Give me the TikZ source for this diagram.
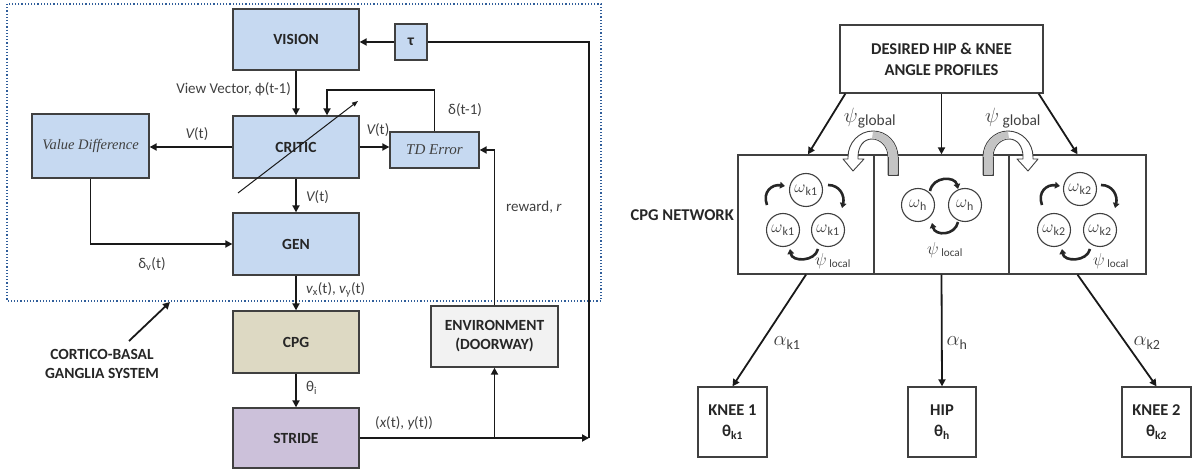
\documentclass[tikz,border=0pt]{standalone}
\usepackage{fontspec}
\setmainfont{Carlito}
\newfontfamily\tnr{Liberation Serif}
\usetikzlibrary{arrows.meta}
\definecolor{boxblue}{HTML}{C6D9F1}
\definecolor{cpgtan}{HTML}{DDD9C3}
\definecolor{strideviolet}{HTML}{CCC1DA}
\definecolor{envgray}{HTML}{F2F2F2}
\definecolor{edge}{HTML}{404040}
\definecolor{txt}{HTML}{262626}
\definecolor{lbl}{HTML}{404040}
\definecolor{dotblue}{HTML}{2F5D9A}
\definecolor{ribbongray}{HTML}{C4C4C4}
\newcommand{\fsz}[2]{\fontsize{#1}{#2}\selectfont}
\tikzset{
  box/.style={draw=edge, line width=1.3pt, inner sep=0pt, align=center, text=txt, font=\bfseries\fsz{15.5}{19}},
  wbox/.style={draw=edge, line width=1.3pt, inner sep=0pt, align=center, text=txt, font=\bfseries\fsz{16.5}{21}, fill=white},
  arr/.style={-{Triangle[length=7pt,width=7pt]}, line width=1.8pt, black!90},
  plain/.style={line width=1.8pt, black!90},
  lab/.style={text=lbl, font=\fsz{15}{18}, inner sep=1pt},
  osc/.style={circle, draw=edge, line width=1.1pt, minimum size=33pt, inner sep=0pt, text=lbl, font=\fsz{17}{18}},
  loop/.style={-{Triangle[length=5pt,width=6.5pt]}, line width=2.6pt, black!85},
  ribbon/.style={draw=edge, line width=0.9pt, line join=round},
}
\begin{document}
\begin{tikzpicture}[x=1pt,y=-1pt]
\useasboundingbox (0,0) rectangle (1194,470);
% ---------------- left diagram ----------------
\draw[dotblue, line width=1.2pt, dotted] (7,4) rectangle (601,301);
\node[box, fill=boxblue, minimum width=126pt, minimum height=61pt] (vision) at (296,39.5) {VISION};
\node[box, fill=boxblue, minimum width=32pt, minimum height=36pt] (tau) at (411,42) {τ};
\node[box, fill=boxblue, minimum width=126pt, minimum height=62pt] (critic) at (296,147) {CRITIC};
\node[box, fill=boxblue, minimum width=117pt, minimum height=64pt, text=lbl, font=\tnr\itshape\fsz{14.5}{17}] (vd) at (90.5,146) {Value Difference};
\node[box, fill=boxblue, minimum width=89pt, minimum height=36pt, text=lbl, font=\tnr\itshape\fsz{15}{17}] (td) at (434.5,150) {TD Error};
\node[box, fill=boxblue, minimum width=126pt, minimum height=62pt] (gen) at (296,244) {GEN};
\node[box, fill=cpgtan, minimum width=126pt, minimum height=62pt] (cpg) at (296,342) {CPG};
\node[box, fill=strideviolet, minimum width=126pt, minimum height=60pt] (stride) at (296,438) {STRIDE};
\node[box, fill=envgray, minimum width=127pt, minimum height=61pt] (env) at (494.5,336.5) {ENVIRONMENT\\(DOORWAY)};
\node[box, draw=none] (cb) at (102,364) {CORTICO-BASAL\\GANGLIA SYSTEM};

\coordinate (fb) at (327,90);
\coordinate (corner) at (589,438);
\coordinate (cbs) at (129,341);
\coordinate (cbt) at (170,302);
\coordinate (dg1) at (238,193);
\coordinate (dg2) at (358,101);

\draw[arr] (tau.west) -- (tau.west -| vision.east);
\draw[arr] (vision) -- (critic);
\draw[arr] (td.north) |- (fb) -- (fb |- critic.north);
\draw[-{Triangle[length=6pt,width=4.5pt]}, line width=1pt, black!90] (dg1) -- (dg2);
\draw[arr] (critic.west) -- (critic.west -| vd.east);
\draw[arr] (critic.east) -- (critic.east -| td.west);
\draw[arr] (critic) -- (gen);
\draw[arr] (vd.south) |- (gen.west);
\draw[arr] (gen) -- (cpg);
\draw[arr] (cpg) -- (stride);
\draw[arr] (stride.east) -- (corner);
\draw[plain] (corner) |- (tau.east);
\draw[arr] (env.south |- stride.east) -- (env.south);
\draw[arr] (env.north) |- (td.east);
\draw[arr] (cbs) -- (cbt);

\node[lab, anchor=east] (lvv) at (292,89) {View Vector, ϕ(t-1)};
\node[lab] (lv1) at (197,134) {{\itshape V}(t)};
\node[lab] (lv2) at (378,130) {{\itshape V}(t)};
\node[lab, anchor=west] (lv3) at (305,197) {{\itshape V}(t)};
\node[lab, anchor=west] (ld) at (447,110) {δ(t-1)};
\node[lab] (ldv) at (152,264) {δ\textsubscript{v}(t)};
\node[lab, anchor=west] (lvxy) at (305,290) {{\itshape v}\textsubscript{x}(t), {\itshape v}\textsubscript{y}(t)};
\node[lab, anchor=west] (lth) at (305,388) {θ\textsubscript{i}};
\node[lab, anchor=west] (lxy) at (374,423) {({\itshape x}(t), {\itshape y}(t))};
\node[lab, anchor=west] (lrw) at (505,207) {reward, {\itshape r}};

% ---------------- right diagram ----------------
\node[wbox, minimum width=203pt, minimum height=68pt] (des) at (941.5,59) {DESIRED HIP \& KNEE\\ANGLE PROFILES};
\node[draw=edge, line width=1.3pt, minimum width=136pt, minimum height=119pt, inner sep=0pt] (c1) at (806,214.5) {};
\node[draw=edge, line width=1.3pt, minimum width=135pt, minimum height=119pt, inner sep=0pt] (c2) at (941.5,214.5) {};
\node[draw=edge, line width=1.3pt, minimum width=137pt, minimum height=119pt, inner sep=0pt] (c3) at (1077.5,214.5) {};
\node[text=txt, font=\bfseries\fsz{16.5}{20}, anchor=east, inner sep=1pt] (cpgnet) at (735,215) {CPG NETWORK};
\node[wbox, minimum width=69pt, minimum height=70pt] (knee1) at (732.5,422) {KNEE 1\\θ\textsubscript{k1}};
\node[wbox, minimum width=68pt, minimum height=70pt] (hip) at (942,422) {HIP\\θ\textsubscript{h}};
\node[wbox, minimum width=69pt, minimum height=70pt] (knee2) at (1156.5,422) {KNEE 2\\θ\textsubscript{k2}};

\draw[arr] ([xshift=6pt]des.south west) -- ([xshift=2pt]c1.north);
\draw[arr] (des.south) -- (c2.north);
\draw[arr] ([xshift=-5pt]des.south east) -- (c3.north);
\draw[arr] (c1.south) -- (knee1.north);
\draw[arr] (c2.south) -- (hip.north);
\draw[arr] (c3.south) -- (knee2.north);

\node[text=lbl, font=\fsz{20}{22}] (a1) at (787,343) {$\alpha$\textsubscript{k1}};
\node[text=lbl, font=\fsz{20}{22}] (a2) at (957,343) {$\alpha$\textsubscript{h}};
\node[text=lbl, font=\fsz{20}{22}] (a3) at (1147,343) {$\alpha$\textsubscript{k2}};

% oscillators
\node[osc] (o11) at (806,190) {$\omega$\textsubscript{k1}};
\node[osc] (o12) at (783,230) {$\omega$\textsubscript{k1}};
\node[osc] (o13) at (828,230) {$\omega$\textsubscript{k1}};
\node[osc] (oh1) at (918,205) {$\omega$\textsubscript{h}};
\node[osc] (oh2) at (965,205) {$\omega$\textsubscript{h}};
\node[osc] (o21) at (1080,189) {$\omega$\textsubscript{k2}};
\node[osc] (o22) at (1054,230) {$\omega$\textsubscript{k2}};
\node[osc] (o23) at (1100,230) {$\omega$\textsubscript{k2}};

\draw[loop] (767,205) .. controls (762,192) and (772,184) .. (785,186);
\draw[loop] (828,185) .. controls (840,185) and (845,196) .. (842,208);
\draw[loop] (818,249) .. controls (815,262) and (792,262) .. (790,249);
\draw[loop] (930,191) .. controls (933,176) and (955,176) .. (958,189);
\draw[loop] (958,222) .. controls (955,236) and (935,236) .. (932,223);
\draw[loop] (1042,205) .. controls (1037,192) and (1047,184) .. (1060,186);
\draw[loop] (1101,185) .. controls (1113,185) and (1118,196) .. (1115,208);
\draw[loop] (1090,249) .. controls (1087,262) and (1064,262) .. (1062,249);

\node[text=lbl, font=\fsz{16}{18}] (pl1) at (833,261) {$\psi$\,\textsubscript{local}};
\node[text=lbl, font=\fsz{16}{18}] (pl2) at (945,250) {$\psi$\,\textsubscript{local}};
\node[text=lbl, font=\fsz{16}{18}] (pl3) at (1111,261) {$\psi$\,\textsubscript{local}};

\node[text=lbl, font=\fsz{22}{24}] (pg1) at (870,118) {$\psi$\textsubscript{global}};
\node[text=lbl, font=\fsz{22}{24}] (pg2) at (1013,118) {$\psi$\,\textsubscript{global}};

% ribbon arrows
\filldraw[ribbon, fill=white] (858,159) -- (858,157) .. controls (858,146) and (864,139) .. (872,139) .. controls (880,139) and (888,146) .. (888,157) -- (888,175) -- (898,175) -- (898,157) .. controls (898,142.6) and (886.8,131) .. (873,131) .. controls (859.2,131) and (848,142.6) .. (848,157) -- (848,159) -- (843,159) -- (853,171) -- (864,159) -- cycle;
\fill[ribbongray] (873,131.6) .. controls (886.4,131.6) and (897.4,142.6) .. (897.4,157) -- (897.4,174.4) -- (888.6,174.4) -- (888.6,157) .. controls (888.6,146) and (880,138.4) .. (872,138.4) -- cycle;
\draw[ribbon] (888,157) -- (888,175) -- (898,175) -- (898,157);

\filldraw[ribbon, fill=white] (1023,159) -- (1023,157) .. controls (1023,146) and (1017,139) .. (1009,139) .. controls (1001,139) and (993,146) .. (993,157) -- (993,175) -- (983,175) -- (983,157) .. controls (983,142.6) and (994.2,131) .. (1008,131) .. controls (1021.8,131) and (1033,142.6) .. (1033,157) -- (1033,159) -- (1038,159) -- (1028,171) -- (1017,159) -- cycle;
\fill[ribbongray] (1008,131.6) .. controls (994.6,131.6) and (983.6,142.6) .. (983.6,157) -- (983.6,174.4) -- (992.4,174.4) -- (992.4,157) .. controls (992.4,146) and (1001,138.4) .. (1009,138.4) -- cycle;
\draw[ribbon] (993,157) -- (993,175) -- (983,175) -- (983,157);
\end{tikzpicture}
\end{document}
